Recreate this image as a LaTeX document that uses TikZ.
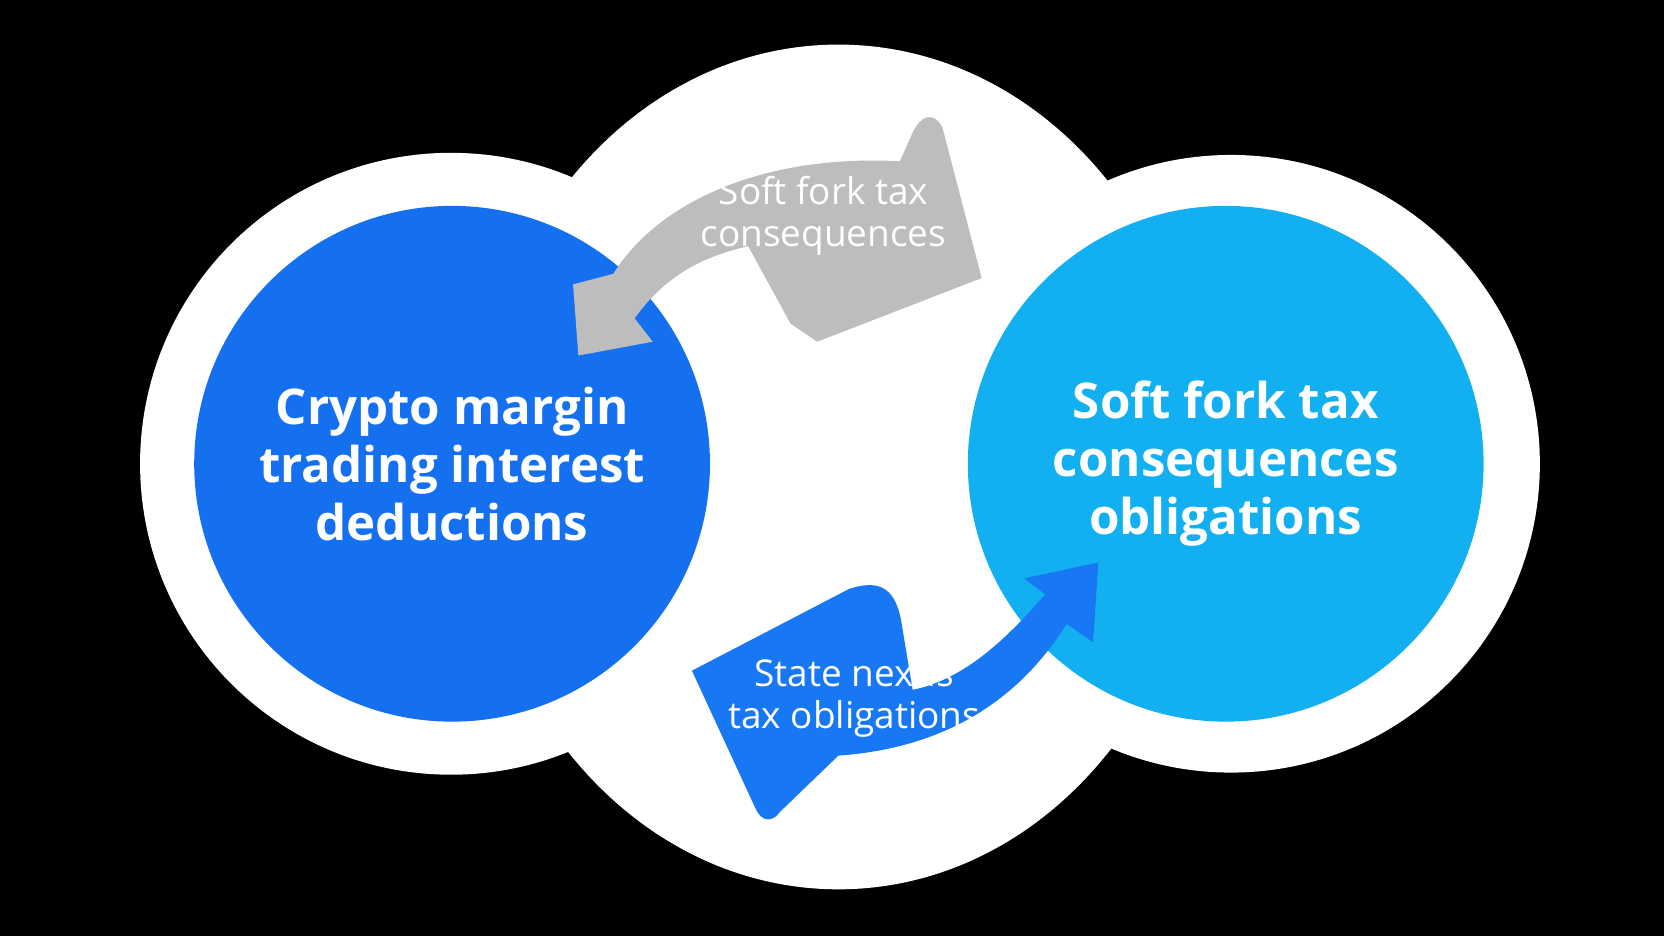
\documentclass[tikz,border=0pt]{standalone}
\usepackage{fontspec}
\setmainfont{Open Sans}
\definecolor{deepblue}{HTML}{1570EF}
\definecolor{skyblue}{HTML}{12B0F0}
\definecolor{arrowblue}{HTML}{1877F2}
\definecolor{arrowgray}{HTML}{BDBDBD}
\tikzstyle{bigcircle} = [circle, minimum size=486*0.0106cm, inner sep=0pt,
    text=white, font=\fontsize{14}{16.5}\selectfont\bfseries, align=center]
\tikzstyle{arrowtext} = [text=white, font=\fontsize{10.5}{12}\selectfont, align=center]
\begin{document}
\begin{tikzpicture}[x=0.0106cm, y=-0.0106cm]
                \fill[black] (0,0) rectangle (1568,882);
                \useasboundingbox (0,0) rectangle (1568,882);
                % white background blob
                \fill[white] (425,437) circle (293);
                \fill[white] (1160,437) circle (291);
                \fill[white] (790,440) ellipse (345 and 398);
                % the two circles
                \node [bigcircle, fill=deepblue] (crypto) at (426,437)
                    {Crypto margin\\trading interest\\deductions};
                \node [bigcircle, fill=skyblue] (softfork) at (1155,437)
                    {Soft fork tax\\consequences\\obligations};
                % gray arrow
                \fill[arrowgray] (545,335) -- (615,322) -- (598,300)
                    .. controls (630,255) and (670,240) .. (705,232)
                    -- (745,305) -- (770,322) -- (925,262) -- (888,120)
                    .. controls (880,105) and (868,108) .. (860,125)
                    -- (848,152)
                    .. controls (720,145) and (620,190) .. (578,258)
                    -- (540,268) -- cycle;
                \node [arrowtext] (graylabel) at (776,203) {Soft fork tax\\consequences};
                % blue arrow
                \fill[arrowblue] (1035,530) -- (1030,605) -- (1005,588)
                    .. controls (960,660) and (890,705) .. (790,712)
                    -- (735,765) .. controls (728,775) and (718,775) .. (712,762)
                    -- (652,632) -- (800,555)
                    .. controls (830,545) and (845,555) .. (850,590)
                    -- (860,650)
                    .. controls (910,640) and (950,600) .. (985,560)
                    -- (965,545) -- cycle;
                \node [arrowtext] (bluelabel) at (805,658) {State nexus\\tax obligations};
\end{tikzpicture}
\end{document}
